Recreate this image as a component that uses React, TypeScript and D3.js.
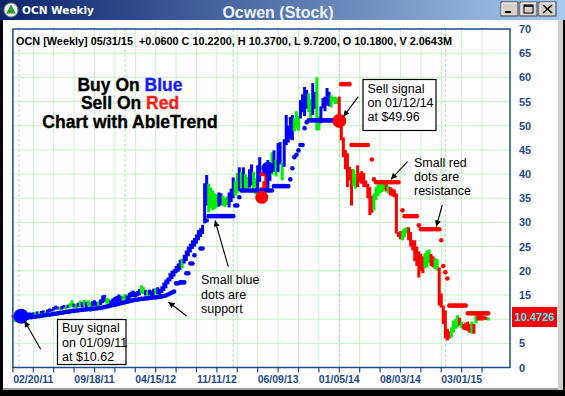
import React from 'react';
import * as d3 from 'd3';

// ---------- DATA (weekly bars, first bar = week of 12/12/10) ----------
const START_DATE = new Date(2010, 11, 12);
const _ = null;

const highs: number[] = [
  10.8, 10.6, 11.0, 11.2, 11.0, 11.2, 11.0, 11.2, 11.4, 11.3,
  11.4, 11.5, 11.6, 11.4, 11.7, 11.8, 11.6, 12.0, 12.2, 12.1,
  12.5, 12.8, 12.6, 12.4, 12.7, 12.9, 12.6, 13.0, 13.3, 13.9,
  13.2, 13.0, 13.4, 13.8, 13.5, 14.0, 13.6, 13.9, 13.5, 13.7,
  13.9, 13.6, 13.7, 14.1, 14.9, 15.0, 14.4, 14.2, 13.9, 14.3,
  14.6, 14.8, 15.1, 14.8, 14.9, 15.2, 14.9, 15.4, 15.7, 15.9,
  15.6, 15.8, 16.2, 17.0, 16.6, 16.0, 15.8, 16.1, 15.9, 16.3,
  16.4, 16.6, 16.3, 16.8, 17.6, 18.2, 18.6, 19.5, 20.0, 20.3,
  21.0, 21.5, 22.3, 22.5, 23.3, 24.2, 25.0, 25.6, 26.3, 26.8,
  27.5, 28.4, 28.8, 29.5, 38.1, 39.8, 38.0, 37.2, 36.6, 36.0,
  35.8, 36.2, 36.0, 35.5, 35.0, 35.4, 36.2, 37.0, 39.3, 38.5,
  40.2, 41.4, 40.5, 41.4, 40.0, 39.5, 41.0, 42.0, 40.5, 39.2,
  41.8, 43.5, 37.3, 38.5, 40.0, 42.9, 41.5, 44.5, 44.9, 43.0,
  46.4, 46.6, 42.4, 47.2, 52.2, 50.0, 51.8, 52.2, 51.5, 53.0,
  52.0, 55.3, 56.5, 58.0, 57.4, 56.7, 55.5, 58.8, 57.0, 60.0,
  52.0, 54.0, 55.7, 56.0, 57.8, 57.0, 56.3, 55.9, 56.0, 55.7,
  56.0, 51.0, 47.6, 45.0, 44.3, 41.5, 41.0, 41.0, 40.0, 41.8,
  40.2, 40.6, 40.2, 38.7, 38.0, 37.3, 35.5, 36.0, 37.3, 37.8,
  38.1, 38.3, 38.1, 38.1, 37.6, 37.3, 37.0, 36.8, 36.0, 28.0,
  28.2, 28.4, 28.8, 29.0, 29.0, 28.0, 26.3, 26.3, 25.0, 24.0,
  23.5, 23.0, 23.6, 24.2, 24.4, 23.5, 23.0, 22.6, 22.4, 20.7,
  15.3, 12.8, 11.8, 8.0, 7.5, 8.3, 9.7, 10.0, 10.8, 10.3,
  9.5, 9.0, 9.3, 9.5, 9.0, 9.5, 9.0, 11.2, 10.8, 11.0,
  10.8, 10.6, 10.5, 10.37,
];

const lows: number[] = [
  10.3, 9.4, 10.2, 10.4, 10.3, 10.5, 10.4, 10.6, 10.7, 10.8,
  10.8, 11.0, 11.0, 10.9, 11.1, 11.2, 11.1, 11.3, 11.5, 11.6,
  11.8, 12.0, 12.0, 11.9, 12.0, 12.2, 12.1, 12.3, 12.4, 12.5,
  12.4, 12.2, 12.5, 12.6, 12.4, 12.8, 12.3, 12.7, 11.5, 12.6,
  12.8, 12.7, 12.5, 12.9, 13.3, 13.6, 13.2, 13.1, 12.8, 13.0,
  13.3, 13.5, 13.7, 13.6, 13.8, 14.0, 13.9, 14.1, 14.5, 14.6,
  14.5, 14.7, 14.9, 15.3, 15.2, 14.9, 14.8, 15.0, 14.7, 15.0,
  15.1, 15.2, 15.0, 15.4, 15.8, 16.4, 17.2, 17.8, 18.3, 18.8,
  19.5, 19.8, 20.2, 20.5, 21.5, 22.0, 23.0, 23.8, 24.5, 25.0,
  25.6, 26.3, 27.0, 27.6, 29.8, 33.5, 32.1, 33.0, 32.5, 32.8,
  33.1, 33.3, 33.6, 33.4, 33.2, 33.6, 33.1, 34.2, 35.0, 35.5,
  36.0, 36.6, 37.0, 36.6, 36.6, 36.8, 37.2, 37.6, 36.4, 35.8,
  37.0, 38.4, 34.3, 35.0, 37.0, 36.6, 38.6, 39.8, 40.5, 39.5,
  40.4, 42.0, 38.7, 41.5, 46.0, 46.5, 47.2, 47.0, 48.8, 49.5,
  49.0, 51.5, 52.8, 52.0, 53.5, 52.8, 51.5, 52.2, 53.5, 49.0,
  49.1, 50.5, 53.6, 53.0, 54.2, 54.0, 53.8, 55.0, 54.5, 54.5,
  50.0, 47.0, 43.5, 41.0, 37.3, 38.7, 33.5, 37.5, 37.0, 37.3,
  38.3, 38.0, 37.3, 37.3, 35.0, 31.5, 32.0, 32.5, 34.6, 35.5,
  36.0, 36.3, 36.6, 36.4, 36.0, 35.6, 35.4, 35.2, 27.7, 27.0,
  26.5, 26.3, 27.0, 27.7, 26.3, 25.0, 24.2, 22.0, 21.0, 18.6,
  20.0, 19.5, 20.5, 20.7, 21.5, 21.0, 20.7, 20.4, 20.0, 12.8,
  12.4, 9.0, 6.0, 5.6, 6.0, 6.2, 7.2, 8.0, 8.3, 8.7,
  8.1, 7.8, 7.7, 7.5, 7.2, 7.0, 7.0, 9.1, 9.7, 9.8,
  9.7, 9.9, 9.8, 9.72,
];

// B = buy trend (blue), G = neutral (green), R = sell trend (red)
const trendCodes = (
  'RGBBBBBBBB' + 'BGBGBBGBBB' + 'BBBGBBGBGG' + 'BGBGBGBGGB' + 'BBGBBBGGBB' +
  'BBBBGGBBBB' + 'BBBGGBGBBB' + 'GBBBBBBBBB' + 'BBBGBBBBBB' + 'BBBBBBGGGG' +
  'GBBGGGBBBG' + 'GBGBGGBBGG' + 'BBRRRBBGBG' + 'BBGBBBBBGG' + 'GBBBBGGBBG' +
  'GBBBBBGGGG' + 'RRRRRRRGGR' + 'RRRRRRRGGG' + 'GGGRGRRRRR' + 'RGGGRRRRRR' +
  'RRGGGRRGGR' + 'RRRRRGGGGR' + 'GRRRRGRGRR' + 'RRRG'
).split('');

const support: (number | null)[] = [
  _, _, _, _, 10.2, 10.2, 10.3, 10.3, 10.4, 10.4,
  10.5, 10.5, 10.6, 10.6, 10.7, 10.8, 10.8, 10.9, 10.9, 11.0,
  11.1, 11.1, 11.2, 11.3, 11.3, 11.4, 11.5, 11.5, 11.6, 11.7,
  11.7, 11.8, 11.8, 11.9, 11.9, 12.0, 12.0, 12.1, 12.1, 12.1,
  12.2, 12.2, 12.3, 12.3, 12.4, 12.5, 12.6, 12.7, 12.8, 12.9,
  13.0, 13.1, 13.2, 13.3, 13.4, 13.5, 13.6, 13.7, 13.8, 13.9,
  14.0, 14.0, 14.1, 14.2, 14.2, 14.3, 14.3, 14.4, 14.4, 14.5,
  14.5, 14.6, 14.6, 14.7, 14.8, 14.9, 15.1, 15.3, 15.5, 15.7,
  17.4, 17.4, 17.6, 17.6, 17.6, 19.5, 19.5, 21.5, 21.5, 23.2,
  _, _, 24.6, 24.6, _, 30.4, 31.3, 31.3, 31.3, 31.3,
  31.3, 31.3, 31.3, 31.3, 31.3, 31.3, 31.3, 31.3, 31.3, 33.5,
  33.5, 35.2, 36.6, 36.6, 36.6, 36.6, 36.6, 36.6, 36.6, 36.6,
  36.6, 36.6, 36.6, 36.6, 36.6, 36.6, 36.6, 36.6, 37.5, 37.5,
  37.5, 37.5, 37.5, 37.5, 37.5, 37.5, 38.9, 41.2, 43.5, 44.0,
  44.9, 46.0, 46.0, 49.5, 50.7, 51.1, 51.1, 51.1, 51.1, 51.1,
  51.1, 51.1, 51.1, 51.1, 51.1, 51.1, 51.1, 51.1, 51.1, 51.1,
  _, _, _, _, _, _, _, _, _, _,
  _, _, _, _, _, _, _, _, _, _,
  _, _, _, _, _, _, _, _, _, _,
  _, _, _, _, _, _, _, _, _, _,
  _, _, _, _, _, _, _, _, _, _,
  _, _, _, _, _, _, _, _, _, _,
  _, _, _, _, _, _, _, _, _, _,
  _, _, _, _,
];

const resistance: (number | null)[] = [
  _, _, _, _, _, _, _, _, _, _,
  _, _, _, _, _, _, _, _, _, _,
  _, _, _, _, _, _, _, _, _, _,
  _, _, _, _, _, _, _, _, _, _,
  _, _, _, _, _, _, _, _, _, _,
  _, _, _, _, _, _, _, _, _, _,
  _, _, _, _, _, _, _, _, _, _,
  _, _, _, _, _, _, _, _, _, _,
  _, _, _, _, _, _, _, _, _, _,
  _, _, _, _, _, _, _, _, _, _,
  _, _, _, _, _, _, _, _, _, _,
  _, _, _, _, _, _, _, _, _, _,
  _, _, 40.0, 40.0, _, _, _, _, _, _,
  _, _, _, _, _, _, _, _, _, _,
  _, _, _, _, _, _, _, _, _, _,
  _, _, _, _, _, _, _, _, _, _,
  _, 58.6, 58.6, 58.6, 58.6, 58.6, 46.0, 46.0, 46.0, 46.0,
  46.0, 46.0, 46.0, 46.0, 46.0, _, 43.0, 38.9, 38.3, 38.3,
  38.3, 38.3, 38.3, 38.3, 38.3, 38.3, 38.3, 38.3, 38.3, 38.3,
  _, 32.5, 31.3, 31.3, 31.3, 31.3, 31.3, 31.3, 31.3, 29.4,
  28.6, 28.6, 28.6, 28.6, 28.6, 28.6, 28.6, 28.6, 28.6, 28.6,
  26.3, 21.0, 19.7, 18.4, 12.8, 12.8, 12.8, 12.8, 12.8, 12.8,
  12.8, 12.8, 12.8, 11.2, 11.2, 11.2, 11.2, 11.2, 11.2, 11.2,
  11.2, 11.2, 11.2, 11.2,
];

const signalWeeks = [4, 122, 125, 160];
const signalPrices = [10.62, 35.2, 41.2, 51.0];
const signalKinds = ['buy', 'sell', 'buy', 'sell'];
const signalRadius = [7.5, 6.5, 6.5, 7];

const yTickValues = [0, 5, 10, 15, 20, 25, 30, 35, 40, 45, 50, 55, 60, 65, 70];
const lastPrice = 10.4726;
const legendText =
  'OCN [Weekly] 05/31/15  +0.0600 C 10.2200, H 10.3700, L 9.7200, O 10.1800, V 2.0643M';

const COLORS: Record<string, string> = { B: '#0000ff', G: '#00ee00', R: '#ff0000' };
const AXIS_BLUE = '#1f4a8c';
const GRID = '#c4f2c4';
const FONT = '"Liberation Sans", Arial, sans-serif';

export default function App() {
  const W = 565;
  const H = 396;
  const plot = { left: 12.9, right: 510, top: 29, bottom: 367.5 };

  const x = d3.scaleLinear().domain([0, 243.7]).range([plot.left, plot.right]);
  const y = d3.scaleLinear().domain([0, 70]).range([plot.bottom, plot.top]);
  const fmt = d3.timeFormat('%m/%d/%y');
  const weekDate = (i: number) => d3.timeWeek.offset(START_DATE, i);

  const tickIdx = d3.range(0, 231, 10);
  const labelIdx = d3.range(10, 231, 30);
  const yearIdx = d3.range(0, 244).filter((i) => {
    const d = weekDate(i);
    return d.getMonth() === 0 && d.getDate() <= 7;
  });

  // y labels hidden behind the last-price box are not drawn (as in the reference)
  const lastY = y(lastPrice);
  const visibleYTicks = yTickValues.filter((v) => Math.abs(y(v) - lastY) > 12);

  const arrows = [
    [40.7, 349.3, 24.5, 321],
    [228.3, 266.7, 215, 220.5],
    [186.7, 316, 168.5, 302],
    [358.3, 96.7, 343.5, 116.5],
    [407.5, 161.7, 391, 179.3],
    [442.3, 205, 436.3, 226.5],
  ];

  return (
    <div style={{ position: 'absolute', left: 0, top: 0 }}>
      <svg width={W} height={H} style={{ display: 'block' }} fontFamily={FONT}>
        <defs>
          <linearGradient id="tb" x1="0" x2="1" y1="0" y2="0">
            <stop offset="0" stopColor="#0a246a" />
            <stop offset="1" stopColor="#a6caf0" />
          </linearGradient>
          <marker id="ah" viewBox="0 0 10 10" refX="10" refY="5" markerWidth="8" markerHeight="6"
            markerUnits="userSpaceOnUse" orient="auto">
            <path d="M0,0 L10,5 L0,10 z" fill="#000" />
          </marker>
        </defs>

        {/* window frame */}
        <rect x={0} y={0} width={W} height={H} fill="#000" />
        <rect x={3} y={20} width={555} height={369} fill="#fff" />
        <rect x={558} y={20} width={5} height={370} fill="#d4d0c8" />
        <rect x={3} y={388} width={555} height={2} fill="#9a9a9a" />
        <rect x={0} y={0} width={W} height={20} fill="url(#tb)" />

        {/* title bar */}
        <circle cx={11} cy={10} r={7} fill="#f0f0f0" stroke="#808080" />
        <path d="M11,4.5 L6.2,13.5 L15.8,13.5 Z" fill="#2a9a2a" />
        <text x={22} y={14} fill="#fff" fontSize={10.5} fontWeight="bold"
          fontFamily='"DejaVu Sans", Verdana, sans-serif'>OCN Weekly</text>
        <text x={278} y={18} fill="#eef2ff" fontSize={16} fontWeight="bold" textAnchor="middle">Ocwen (Stock)</text>
        {[501, 520, 539].map((bx, k) => (
          <g key={k}>
            <rect x={bx} y={2} width={17} height={14} fill="#d4d0c8" stroke="#404040" strokeWidth={1} />
            <line x1={bx + 1} y1={3} x2={bx + 16} y2={3} stroke="#fff" />
            <line x1={bx + 1} y1={3} x2={bx + 1} y2={15} stroke="#fff" />
          </g>
        ))}
        <rect x={505} y={11} width={6} height={2} fill="#000" />
        <rect x={524} y={5} width={9} height={8} fill="none" stroke="#000" strokeWidth={1} />
        <line x1={524} y1={6} x2={533} y2={6} stroke="#000" strokeWidth={1.5} />
        <path d="M543,5 L552,13 M552,5 L543,13" stroke="#000" strokeWidth={1.6} />

        {/* grid */}
        {yTickValues.filter((v) => v > 0 && v < 70).map((v) => (
          <line key={'h' + v} x1={plot.left} x2={plot.right} y1={y(v)} y2={y(v)} stroke={GRID} strokeWidth={1} />
        ))}
        {tickIdx.filter((i) => i > 0).map((i) => (
          <line key={'v' + i} x1={x(i)} x2={x(i)} y1={plot.top} y2={plot.bottom} stroke={GRID} strokeWidth={1} />
        ))}
        {yearIdx.map((i) => (
          <line key={'yr' + i} x1={x(i)} x2={x(i)} y1={plot.top} y2={plot.bottom}
            stroke="#a8e2a8" strokeWidth={1} strokeDasharray="3,2" />
        ))}

        {/* legend line */}
        <text x={16} y={45} fontSize={11} fontWeight="bold" fill="#000" textLength={436}
          lengthAdjust="spacingAndGlyphs" xmlSpace="preserve">{legendText}</text>

        {/* headline */}
        <g fontSize={17.5} fontWeight="900" textAnchor="middle" fill="#000" stroke="#000" strokeWidth={0.35}>
          <text x={130} y={90.5}>
            Buy On <tspan fill="#1a1aff" stroke="#1a1aff">Blue</tspan>
          </text>
          <text x={130} y={109}>
            Sell On <tspan fill="#ff1a1a" stroke="#ff1a1a">Red</tspan>
          </text>
          <text x={130} y={128}>Chart with AbleTrend</text>
        </g>

        {/* bars */}
        {highs.map((h, i) => {
          const top = y(h);
          const bot = y(lows[i]);
          return (
            <rect key={'b' + i} x={x(i) - 1.5} width={3} y={top} height={Math.max(bot - top, 1.5)}
              fill={COLORS[trendCodes[i]]} />
          );
        })}

        {/* support / resistance dots */}
        {support.map((v, i) => v == null ? null : (
          <circle key={'s' + i} cx={x(i)} cy={y(v)} r={2.3} fill="#0000ff" />
        ))}
        {resistance.map((v, i) => v == null ? null : (
          <circle key={'r' + i} cx={x(i)} cy={y(v)} r={2.3} fill="#ff0000" />
        ))}

        {/* signals */}
        {signalWeeks.map((w, k) => (
          <circle key={'sig' + k} cx={x(w)} cy={y(signalPrices[k])} r={signalRadius[k]}
            fill={signalKinds[k] === 'buy' ? '#0000ff' : '#ff0000'} />
        ))}

        {/* plot frame */}
        <rect x={plot.left} y={plot.top} width={plot.right - plot.left} height={plot.bottom - plot.top}
          fill="none" stroke={AXIS_BLUE} strokeWidth={1.5} />

        {/* x ticks */}
        {tickIdx.map((i) => (
          <line key={'t' + i} x1={x(i)} x2={x(i)} y1={plot.bottom} y2={plot.bottom + 5} stroke={AXIS_BLUE} strokeWidth={1.2} />
        ))}
        {labelIdx.map((i) => (
          <text key={'xl' + i} x={x(i)} y={383} fontSize={10.5} fontWeight="bold" fill={AXIS_BLUE} textAnchor="middle">
            {fmt(weekDate(i))}
          </text>
        ))}

        {/* y labels */}
        {visibleYTicks.map((v) => (
          <text key={'yl' + v} x={519} y={y(v) + 4} fontSize={11} fontWeight="bold" fill={AXIS_BLUE}>{v}</text>
        ))}
        <rect x={512} y={307} width={45} height={20} fill="#ff0000" />
        <text x={534.5} y={lastY + 4} fontSize={11} fontWeight="bold" fill="#3ff0ff" textAnchor="middle">
          {lastPrice.toFixed(4)}
        </text>

        {/* annotation boxes */}
        <rect x={57.5} y={319.5} width={68.5} height={45} fill="#fff" stroke="#000" strokeWidth={1.2} />
        <g fontSize={12.5} fill="#000">
          <text x={62} y={332}>Buy signal</text>
          <text x={62} y={346.5}>on 01/09/11</text>
          <text x={62} y={360.5}>at $10.62</text>
        </g>
        <rect x={363} y={79.5} width={73} height={51} fill="#fff" stroke="#000" strokeWidth={1.2} />
        <g fontSize={12.5} fill="#000">
          <text x={367.5} y={92.5}>Sell signal</text>
          <text x={367.5} y={106.8}>on 01/12/14</text>
          <text x={367.5} y={121}>at $49.96</text>
        </g>
        <g fontSize={12.5} fill="#000">
          <text x={201} y={284}>Small blue</text>
          <text x={201} y={298.5}>dots are</text>
          <text x={201} y={313}>support</text>
          <text x={414} y={166.7}>Small red</text>
          <text x={414} y={180.7}>dots are</text>
          <text x={414} y={194.5}>resistance</text>
        </g>
        {arrows.map((a, k) => (
          <line key={'a' + k} x1={a[0]} y1={a[1]} x2={a[2]} y2={a[3]} stroke="#000" strokeWidth={1.1} markerEnd="url(#ah)" />
        ))}
      </svg>
    </div>
  );
}
